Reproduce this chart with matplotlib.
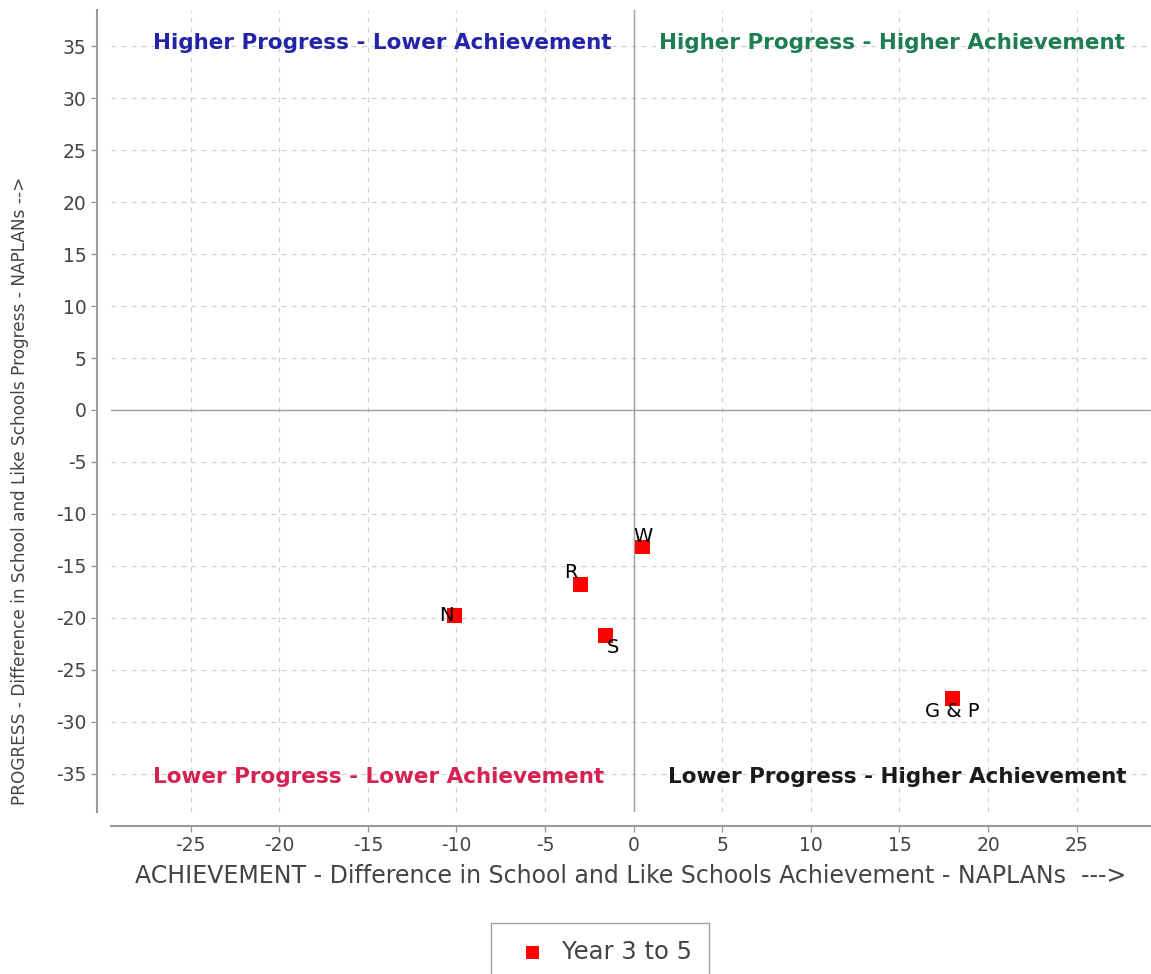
import numpy as np
import matplotlib.pyplot as plt

plt.rcParams['axes.unicode_minus'] = False

# school results (achievement diff, progress diff)
labels = ['N', 'R', 'S', 'W', 'G & P']
achievement = [-10.1, -3.0, -1.6, 0.5, 18.0]
progress = [-19.8, -16.8, -21.7, -13.2, -27.8]
series_name = 'Year 3 to 5'

# label offsets in points, relative to marker
offsets = [(-1, 0), (-2, 2), (1, -2), (0, 1), (0, -2)]
aligns = [('right', 'center'), ('right', 'bottom'), ('left', 'top'),
          ('center', 'bottom'), ('center', 'top')]

quadrants = [
    ('Higher Progress - Lower Achievement', -14.2, 35.3, '#2424a8'),
    ('Higher Progress - Higher Achievement', 14.6, 35.3, '#1f7d52'),
    ('Lower Progress - Lower Achievement', -14.4, -35.3, '#d42252'),
    ('Lower Progress - Higher Achievement', 14.9, -35.3, '#1a1a1a'),
]

W, H = 1151, 974
fig = plt.figure(figsize=(W / 100, H / 100), dpi=100)
ax = fig.add_axes([111 / W, (H - 812) / H, 1040 / W, 802 / H])

ax.set_xlim(-29.5, 29.2)
ax.set_ylim(-38.7, 38.5)
ax.set_xticks(np.arange(-25, 26, 5))
ax.set_yticks(np.arange(-35, 36, 5))

ax.grid(True, linestyle=(0, (4, 4)), color='#d0d0d0', linewidth=0.9)
ax.axhline(0, color='#a0a0a0', linewidth=1)
ax.axvline(0, color='#a0a0a0', linewidth=1)

for side in ['top', 'right']:
    ax.spines[side].set_visible(False)
for side in ['left', 'bottom']:
    ax.spines[side].set_position(('outward', 10))
    ax.spines[side].set_color('#999999')
    ax.spines[side].set_linewidth(1.5)
ax.tick_params(colors='#999999', labelcolor='#444444', labelsize=13.5,
               length=4, width=1)

ax.scatter(achievement, progress, marker='s', s=110, color='red',
           edgecolors='none', zorder=5, label=series_name)

for lab, x, y, off, (ha, va) in zip(labels, achievement, progress, offsets, aligns):
    ax.annotate(lab, (x, y), xytext=off, textcoords='offset points',
                ha=ha, va=va, fontsize=14, color='black', zorder=6)

for txt, x, y, c in quadrants:
    ax.text(x, y, txt, color=c, fontsize=15.5, fontweight='bold',
            ha='center', va='center')

ax.set_xlabel('ACHIEVEMENT - Difference in School and Like Schools Achievement - NAPLANs  --->',
              fontsize=17, color='#444444', labelpad=6)
ax.set_ylabel('PROGRESS - Difference in School and Like Schools Progress - NAPLANs -->',
              fontsize=12.2, color='#444444')
ax.yaxis.set_label_coords(-0.079, 0.40)

leg = fig.legend(loc='upper center', bbox_to_anchor=(600 / W, 1 - 911 / H),
                 fancybox=False, edgecolor='#888888', fontsize=17.5,
                 handletextpad=0.2, borderpad=0.7, markerscale=0.9)
for t in leg.get_texts():
    t.set_color('#444444')

fig.savefig('out.png', dpi=100)
